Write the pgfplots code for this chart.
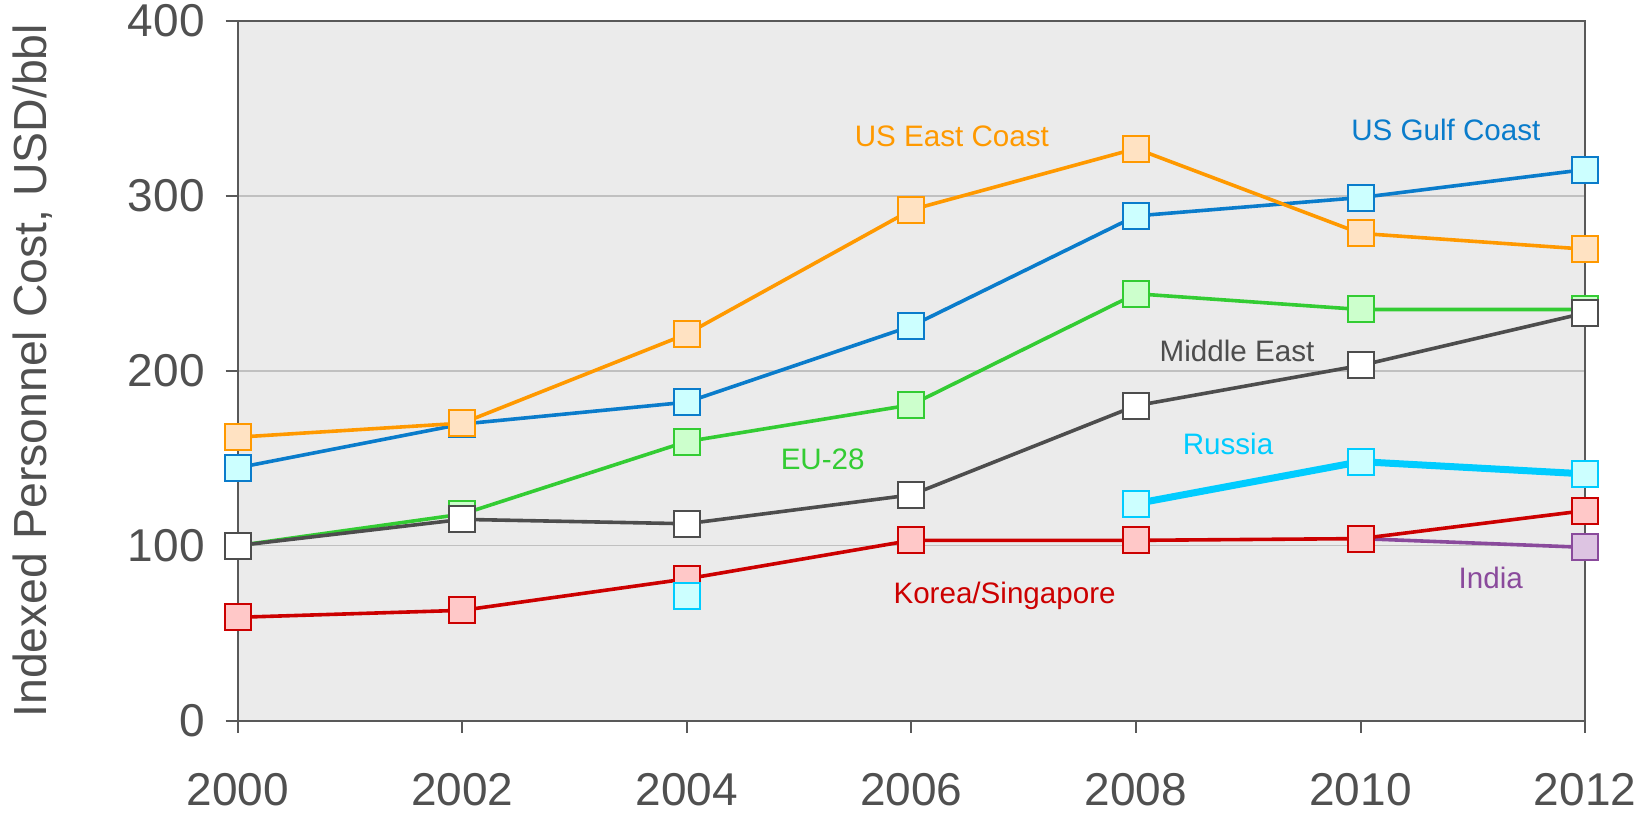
\documentclass[border=0pt]{standalone}
\usepackage{pgfplots}
\pgfplotsset{compat=1.18}
\usepackage{fontspec}
\setmainfont{Liberation Sans}
\definecolor{axgray}{HTML}{595959}
\definecolor{txtgray}{HTML}{505050}
\definecolor{bggray}{HTML}{EBEBEB}
\definecolor{gridgray}{HTML}{C0C0C0}
\definecolor{cOrange}{HTML}{FF9900}
\definecolor{fOrange}{HTML}{FFE2C2}
\definecolor{cBlue}{HTML}{0A7CCB}
\definecolor{fCyan}{HTML}{CCFFFF}
\definecolor{cGreen}{HTML}{33CC33}
\definecolor{fGreen}{HTML}{CCFFCC}
\definecolor{cGray}{HTML}{4D4D4D}
\definecolor{cRussia}{HTML}{00CCFF}
\definecolor{cRed}{HTML}{CC0000}
\definecolor{fRed}{HTML}{FFC8C8}
\definecolor{cPurple}{HTML}{8A4A9C}
\definecolor{fPurple}{HTML}{DDC4E2}
\begin{document}
\begin{tikzpicture}
\begin{axis}[
  at={(0,0)}, anchor=south west,
  scale only axis, width=673.7pt, height=349.8pt,
  xmin=2000, xmax=2012, ymin=0, ymax=400,
  xtick={2000,2002,...,2012}, ytick={0,100,200,300,400},
  axis background/.style={fill=bggray},
  axis line style={axgray, line width=1pt},
  tick style={axgray, line width=1pt},
  tick align=outside, major tick length=6pt,
  ymajorgrids, grid style={gridgray, line width=0.8pt},
  xtick pos=bottom, ytick pos=left,
  /pgf/number format/assume math mode=true,
  /pgf/number format/1000 sep={},
  tick label style={font=\fontsize{23}{23}\selectfont, text=txtgray},
  yticklabel style={xshift=-7pt},
  xticklabel style={yshift=-17pt},
  ylabel={Indexed Personnel Cost, USD/bbl},
  ylabel style={font=\fontsize{23.2}{23.2}\selectfont, text=txtgray, at={(axis description cs:0,0.5)}, anchor=south, yshift=89pt},
  clip=false,
  every axis plot/.append style={line width=1.8pt, mark size=6.5pt},
]
% India
\addplot[cPurple, mark=square*, mark options={solid, line width=1pt, fill=fPurple, draw=cPurple}]
  coordinates {(2010,104) (2012,99)};
% Korea/Singapore
\addplot[cRed, mark=square*, mark options={solid, line width=1pt, fill=fRed, draw=cRed}]
  coordinates {(2000,59) (2002,63) (2004,81) (2006,103) (2008,103) (2010,104) (2012,120)};
% Russia
\addplot[cRussia, only marks, mark=square*, mark options={solid, line width=1pt, fill=fCyan, draw=cRussia}]
  coordinates {(2004,71)};
\addplot[cRussia, line width=3.5pt, mark=square*, mark options={solid, line width=1pt, fill=fCyan, draw=cRussia}]
  coordinates {(2008,124) (2010,148) (2012,141)};
% EU-28
\addplot[cGreen, mark=square*, mark options={solid, line width=1pt, fill=fGreen, draw=cGreen}]
  coordinates {(2000,100) (2002,118) (2004,159.5) (2006,180.5) (2008,244) (2010,235) (2012,235)};
% Middle East
\addplot[cGray, mark=square*, mark options={solid, line width=1pt, fill=white, draw=cGray}]
  coordinates {(2000,100) (2002,115) (2004,112.5) (2006,129) (2008,180) (2010,203) (2012,233)};
% US Gulf Coast
\addplot[cBlue, mark=square*, mark options={solid, line width=1pt, fill=fCyan, draw=cBlue}]
  coordinates {(2000,144.5) (2002,169.5) (2004,182) (2006,225.5) (2008,288.5) (2010,299) (2012,315)};
% US East Coast
\addplot[cOrange, mark=square*, mark options={solid, line width=1pt, fill=fOrange, draw=cOrange}]
  coordinates {(2000,162) (2002,170) (2004,221) (2006,292) (2008,327) (2010,278.5) (2012,269.5)};
\begin{scope}[every node/.style={font=\fontsize{14.8}{14.8}\selectfont}]
\node[text=cOrange] at (axis cs:2006.36,333.8) {US East Coast};
\node[text=cBlue] at (axis cs:2010.76,337.4) {US Gulf Coast};
\node[text=cGray] at (axis cs:2008.90,211.1) {Middle East};
\node[text=cGreen] at (axis cs:2005.21,149.2) {EU-28};
\node[text=cRussia] at (axis cs:2008.82,158.2) {Russia};
\node[text=cRed] at (axis cs:2006.83,71) {Korea/Singapore};
\node[text=cPurple] at (axis cs:2011.16,81.8) {India};
\end{scope}
\end{axis}
\pgfresetboundingbox
\path (-118.85pt,-47.75pt) rectangle (705.65pt,360.25pt);
\end{tikzpicture}
\end{document}
